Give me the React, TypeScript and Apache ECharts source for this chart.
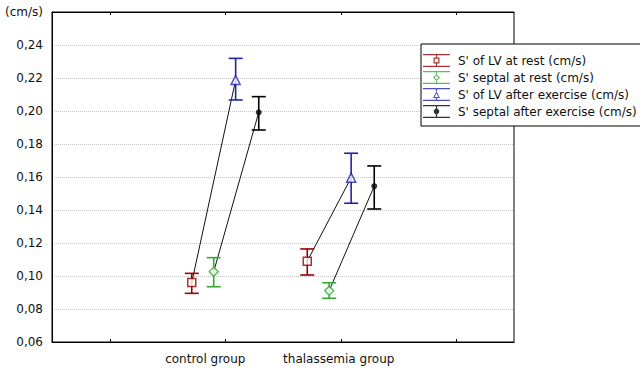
import React, { useEffect, useRef } from "react";
import * as echarts from "echarts";

// ---- data ----
const groups = ["control group", "thalassemia group"];
const groupCenters = [1.5, 2.5];
const yTicks = [0.06, 0.08, 0.1, 0.12, 0.14, 0.16, 0.18, 0.2, 0.22, 0.24, 0.26];

const lvRestMean = [0.096, 0.109];
const lvRestLow = [0.0895, 0.1006];
const lvRestHigh = [0.1016, 0.1164];

const septalRestMean = [0.1026, 0.0911];
const septalRestLow = [0.0935, 0.0865];
const septalRestHigh = [0.1111, 0.0959];

const lvExMean = [0.2188, 0.1596];
const lvExLow = [0.2067, 0.1441];
const lvExHigh = [0.2319, 0.1744];

const septalExMean = [0.1992, 0.1545];
const septalExLow = [0.1885, 0.1406];
const septalExHigh = [0.2087, 0.1667];

const seriesNames = [
  "S' of LV at rest (cm/s)",
  "S' septal at rest (cm/s)",
  "S' of LV after exercise (cm/s)",
  "S' septal after exercise (cm/s)",
];

// ---- styling ----
const offsets = [-0.29, -0.1, 0.09, 0.29];
const colors = ["#990000", "#33aa33", "#2222aa", "#000000"];
const FONT = "'DejaVu Sans', Arial, sans-serif";
const FS = 12;

const caps = "M0 0H27V1.3H0Z M0 11.7H27V13H0Z ";
const iconSquare =
  "path://" + caps +
  "M12.9 1.3H14.1V3.5H12.9Z M12.9 9.5H14.1V11.7H12.9Z " +
  "M10.5 3.5H16.5V9.5H10.5Z M11.7 4.7V8.3H15.3V4.7Z";
const iconDiamond =
  "path://" + caps +
  "M12.9 1.3H14.1V3H12.9Z M12.9 10H14.1V11.7H12.9Z " +
  "M13.5 3L17 6.5L13.5 10L10 6.5Z M13.5 4.6L11.6 6.5L13.5 8.4L15.4 6.5Z";
const iconTriangle =
  "path://" + caps +
  "M12.9 1.3H14.1V3H12.9Z M12.9 10H14.1V11.7H12.9Z " +
  "M13.5 3L17 10L10 10Z M13.5 5.2L11.6 9L15.4 9Z";
const iconDot =
  "path://" + caps +
  "M12.9 1.3H14.1V11.7H12.9Z " +
  "M12.4 3.8H14.6L16.2 5.4V7.6L14.6 9.2H12.4L10.8 7.6V5.4Z";
const icons = [iconSquare, iconDiamond, iconTriangle, iconDot];

const symbols = ["rect", "diamond", "triangle", "circle"];
const symbolSizes = [8, 9, 9, 6];

const means = [lvRestMean, septalRestMean, lvExMean, septalExMean];
const lows = [lvRestLow, septalRestLow, lvExLow, septalExLow];
const highs = [lvRestHigh, septalRestHigh, lvExHigh, septalExHigh];

function xOf(seriesIdx: number, groupIdx: number) {
  return groupCenters[groupIdx] + offsets[seriesIdx];
}

export default function App() {
  const ref = useRef<HTMLDivElement>(null);

  useEffect(() => {
    if (!ref.current) return;
    const chart = echarts.init(ref.current, undefined, { renderer: "svg" });

    const series: any[] = [];

    // connecting lines (rest -> exercise)
    const pairs = [
      [0, 2],
      [1, 3],
    ];
    groups.forEach((_, g) => {
      pairs.forEach(([a, b]) => {
        series.push({
          type: "line",
          silent: true,
          symbol: "none",
          z: 1,
          lineStyle: { color: "#111", width: 1 },
          data: [
            [xOf(a, g), means[a][g]],
            [xOf(b, g), means[b][g]],
          ],
        });
      });
    });

    // error bars
    seriesNames.forEach((name, s) => {
      series.push({
        type: "custom",
        name: name + " err",
        silent: true,
        z: 2,
        renderItem: (params: any, api: any) => {
          const x = api.value(0);
          const lo = api.coord([x, api.value(1)]);
          const hi = api.coord([x, api.value(2)]);
          const half = 7;
          const style = { stroke: colors[s], lineWidth: 1.6 };
          return {
            type: "group",
            children: [
              { type: "line", shape: { x1: lo[0], y1: lo[1], x2: hi[0], y2: hi[1] }, style },
              { type: "line", shape: { x1: lo[0] - half, y1: lo[1], x2: lo[0] + half, y2: lo[1] }, style },
              { type: "line", shape: { x1: hi[0] - half, y1: hi[1], x2: hi[0] + half, y2: hi[1] }, style },
            ],
          };
        },
        data: groups.map((_, g) => [xOf(s, g), lows[s][g], highs[s][g]]),
      });
    });

    // markers
    seriesNames.forEach((name, s) => {
      const filled = s === 3;
      series.push({
        type: "scatter",
        name,
        z: 3,
        symbol: symbols[s],
        symbolSize: symbolSizes[s],
        itemStyle: filled
          ? { color: colors[s], borderWidth: 0 }
          : { color: "#ffffff", borderColor: colors[s], borderWidth: 1.5 },
        data: groups.map((_, g) => [xOf(s, g), means[s][g]]),
      });
    });

    chart.setOption({
      animation: false,
      backgroundColor: "#ffffff",
      textStyle: { fontFamily: FONT },
      grid: {
        left: 52,
        right: 126,
        top: 12,
        bottom: 30,
        show: true,
        borderColor: "#000",
        borderWidth: 1,
        backgroundColor: "transparent",
      },
      legend: {
        orient: "vertical",
        left: 421,
        top: 44,
        selectedMode: false,
        backgroundColor: "#ffffff",
        borderColor: "#000",
        borderWidth: 1,
        padding: [10, 6, 8, 2],
        itemWidth: 27,
        itemHeight: 13,
        itemGap: 4,
        z: 10,
        textStyle: { fontSize: FS, color: "#111", fontFamily: FONT, padding: [0, 0, 0, 3] },
        data: seriesNames.map((name, s) => ({
          name,
          icon: icons[s],
          itemStyle: { color: colors[s], borderWidth: 0, borderColor: "transparent" },
        })),
      },
      xAxis: [
        {
          type: "value",
          min: 0,
          max: 4,
          position: "bottom",
          axisLine: { show: true, lineStyle: { color: "#000", width: 1 } },
          axisTick: {
            show: true,
            inside: true,
            length: 3,
            customValues: [0.5, 1.5, 2.5, 3.5],
            lineStyle: { color: "#000" },
          },
          splitLine: { show: false },
          axisLabel: {
            customValues: groupCenters,
            margin: 11,
            fontSize: FS,
            color: "#111",
            fontFamily: FONT,
            formatter: (v: number) =>
              Math.abs(v - groupCenters[0]) < 1e-6
                ? "{c|" + groups[0] + "}"
                : "{t|" + groups[1] + "}",
            rich: {
              c: { fontSize: FS, color: "#111", fontFamily: FONT, padding: [0, 40, 0, 0] },
              t: { fontSize: FS, color: "#111", fontFamily: FONT, padding: [0, 4, 0, 0] },
            },
          },
        },
        {
          type: "value",
          min: 0,
          max: 4,
          position: "top",
          axisLine: { show: true, lineStyle: { color: "#000", width: 1 } },
          axisTick: {
            show: true,
            inside: true,
            length: 3,
            customValues: [0.5, 1.5, 2.5, 3.5],
            lineStyle: { color: "#000" },
          },
          axisLabel: { show: false },
          splitLine: { show: false },
        },
      ],
      yAxis: {
        type: "value",
        min: yTicks[0],
        max: yTicks[yTicks.length - 1],
        interval: 0.02,
        axisLine: { show: true, lineStyle: { color: "#000", width: 1 } },
        axisTick: { show: false },
        splitLine: {
          show: true,
          lineStyle: { color: "#c4c4c4", type: [1, 1], width: 1 },
        },
        axisLabel: {
          margin: 9,
          fontSize: FS,
          color: "#111",
          fontFamily: FONT,
          formatter: (v: number) =>
            Math.abs(v - yTicks[yTicks.length - 1]) < 1e-6
              ? "(cm/s)"
              : v.toFixed(2).replace(".", ","),
        },
      },
      series,
    });

    return () => chart.dispose();
  }, []);

  return (
    <div
      ref={ref}
      style={{ position: "fixed", left: 0, top: 0, width: 640, height: 372 }}
    />
  );
}
